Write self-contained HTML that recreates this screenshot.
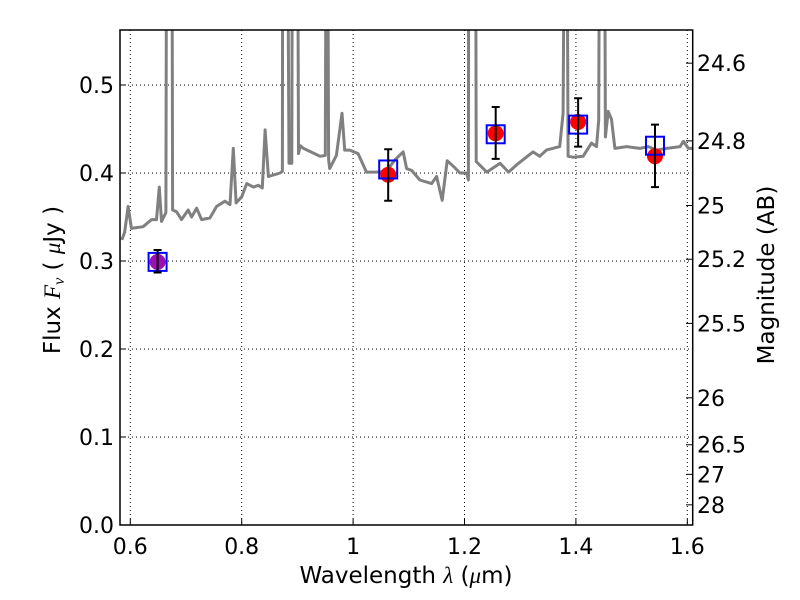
<!DOCTYPE html>
<html><head><meta charset="utf-8"><style>
body{margin:0;background:#fff;}
svg{display:block;font-family:"DejaVu Sans","Liberation Sans",sans-serif;}
</style></head><body>
<svg id="chart" width="800" height="600">
<defs><clipPath id="clip"><rect x="120" y="30" width="572.7" height="495"/></clipPath></defs>
<rect x="0" y="0" width="800" height="600" fill="#fff"/>
<g id="grid"></g>
<g id="spec" clip-path="url(#clip)"></g>
<g id="pts"></g>
<rect x="120" y="30" width="572.7" height="495" fill="none" stroke="#000" stroke-width="1.5"/>
<g id="axes"></g>
<text x="406" y="583" font-size="23" text-anchor="middle">Wavelength  <tspan font-style="italic" font-family="Liberation Serif, serif">λ</tspan> (<tspan font-style="italic" font-family="Liberation Serif, serif">μ</tspan>m)</text>
<text transform="translate(60,280) rotate(-90)" font-size="23" text-anchor="middle">Flux  <tspan font-style="italic" font-family="Liberation Serif, serif">F</tspan><tspan font-style="italic" font-family="Liberation Serif, serif" font-size="16" dy="4">ν</tspan><tspan dy="-4">  ( </tspan><tspan font-style="italic" font-family="Liberation Serif, serif">μ</tspan>Jy )</text>
<text transform="translate(774,275) rotate(-90)" font-size="23" text-anchor="middle">Magnitude (AB)</text>
</svg>
<script>
const xTicks=[0.6,0.8,1.0,1.2,1.4,1.6];
const xTickLabels=["0.6","0.8","1","1.2","1.4","1.6"];
const yTicks=[0,0.1,0.2,0.3,0.4,0.5];
const yTickLabels=["0.0","0.1","0.2","0.3","0.4","0.5"];
const magTicks=[24.6,24.8,25,25.2,25.5,26,26.5,27,28];
const magTickLabels=["24.6","24.8","25","25.2","25.5","26","26.5","27","28"];
const specWave=[0.585,0.590,0.596,0.602,0.623,0.638,0.647,0.652,0.656,0.664,0.666,0.674,0.676,0.683,0.692,0.704,0.710,0.719,0.728,0.743,0.755,0.770,0.779,0.785,0.790,0.800,0.809,0.821,0.830,0.837,0.842,0.848,0.869,0.873,0.874,0.880,0.885,0.890,0.892,0.899,0.902,0.905,0.911,0.941,0.950,0.953,0.956,0.958,0.970,0.980,0.985,0.994,1.009,1.024,1.042,1.060,1.075,1.090,1.096,1.105,1.120,1.141,1.150,1.160,1.169,1.181,1.192,1.204,1.207,1.208,1.219,1.221,1.240,1.264,1.279,1.297,1.323,1.335,1.347,1.371,1.377,1.382,1.386,1.395,1.413,1.428,1.437,1.441,1.444,1.450,1.453,1.458,1.464,1.470,1.491,1.515,1.530,1.545,1.563,1.587,1.593,1.602,1.610];
const specFlux=[0.324,0.333,0.362,0.337,0.339,0.347,0.347,0.384,0.345,0.355,1.0,1.0,0.358,0.356,0.347,0.358,0.350,0.360,0.347,0.349,0.362,0.368,0.364,0.428,0.366,0.373,0.388,0.384,0.386,0.383,0.449,0.396,0.400,0.402,1.0,1.0,0.411,0.411,1.0,1.0,0.422,0.431,0.428,0.419,0.420,1.0,0.415,0.405,0.420,0.468,0.426,0.426,0.422,0.401,0.401,0.402,0.415,0.424,0.405,0.403,0.392,0.388,0.396,0.369,0.414,0.407,0.400,0.400,0.392,1.0,1.0,0.413,0.401,0.411,0.401,0.411,0.424,0.419,0.426,0.430,0.468,1.0,0.419,0.418,0.419,0.434,0.430,0.460,1.0,1.0,0.441,0.470,0.461,0.428,0.430,0.428,0.430,0.426,0.428,0.430,0.436,0.428,0.428];
const photWave=[0.649,1.063,1.256,1.404,1.542];
const obsFlux=[0.299,0.398,0.445,0.458,0.419];
const obsErrHi=[0.3125,0.427,0.475,0.485,0.455];
const obsErrLo=[0.287,0.3685,0.416,0.430,0.384];
const modelFlux=[0.299,0.404,0.444,0.455,0.431];
const pointColors=["#9a10b0","#ff0000","#ff0000","#ff0000","#ff0000"];

const NS="http://www.w3.org/2000/svg";
const X=w=>130.3+(w-0.6)*557;
const Y=f=>525-f*880;
const magToFlux=m=>Math.pow(10,(23.9-m)/2.5);
function mk(parent,tag,attrs,text){const e=document.createElementNS(NS,tag);for(const k in attrs)e.setAttribute(k,attrs[k]);if(text!==undefined)e.textContent=text;parent.appendChild(e);return e;}
const grid=document.getElementById('grid'),axes=document.getElementById('axes');
xTicks.forEach((t,i)=>{
 const x=X(t);
 const g=mk(grid,'line',{x1:x,x2:x,y1:30,y2:525,stroke:'#000','stroke-width':1,'stroke-dasharray':'1,3'});
 
 
 const tk=mk(axes,'line',{x1:x,x2:x,y1:525,y2:519,stroke:'#000'});
 
 
 const l=mk(axes,'text',{x:x,y:554,'font-size':22,'text-anchor':'middle'},xTickLabels[i]);
 
 
});
yTicks.forEach((t,i)=>{
 const y=Y(t);
 const g=mk(grid,'line',{x1:120,x2:692.7,y1:y,y2:y,stroke:'#000','stroke-width':1,'stroke-dasharray':'1,3'});
 
 
 const tk=mk(axes,'line',{x1:120,x2:126,y1:y,y2:y,stroke:'#000'});
 
 
 const l=mk(axes,'text',{x:114,y:y+8,'font-size':22,'text-anchor':'end'},yTickLabels[i]);
 
 
});
magTicks.forEach((m,i)=>{
 const y=Y(magToFlux(m));
 const tk=mk(axes,'line',{x1:686,x2:692.7,y1:y,y2:y,stroke:'#000'});
 
 
 const l=mk(axes,'text',{x:697,y:y+8,'font-size':22},magTickLabels[i]);
 
 
});
const spec=document.getElementById('spec');
const d=specWave.map((w,i)=>(i?'L':'M')+X(w).toFixed(1)+','+Y(specFlux[i]).toFixed(1)).join(' ');
const sp=mk(spec,'path',{d:d,fill:'none',stroke:'#808080','stroke-width':3,'stroke-linejoin':'round'});


const pts=document.getElementById('pts');
photWave.forEach((w,i)=>{
 const x=X(w);
 const c=mk(pts,'circle',{cx:x,cy:Y(obsFlux[i]),r:8,fill:pointColors[i]});
 
 
 const s=mk(pts,'rect',{x:x-9,y:Y(modelFlux[i])-9,width:18,height:18,fill:'none',stroke:'#0000ff','stroke-width':2});
 
 
 const e=mk(pts,'path',{d:`M${x},${Y(obsErrHi[i])}V${Y(obsErrLo[i])}M${x-4},${Y(obsErrHi[i])}h8M${x-4},${Y(obsErrLo[i])}h8`,stroke:'#000','stroke-width':2,fill:'none'});
 
 
});
</script>
</body></html>
